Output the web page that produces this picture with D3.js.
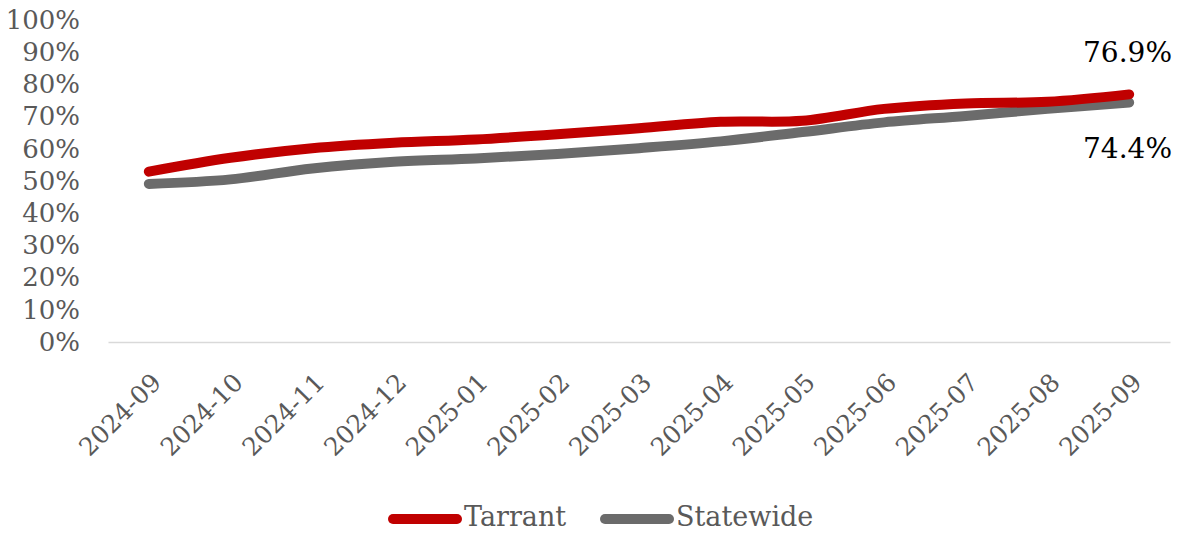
<!DOCTYPE html>
<html>
<head>
<meta charset="utf-8">
<script src="https://cdn.jsdelivr.net/npm/d3@7"></script>
<style>
	body { margin: 0; background: #fff; }
	svg { display: block; font-family: Georgia, "DejaVu Serif", serif; }
</style>
</head>
<body>
<div id="chart"></div>
<script>
/**********************************************************/
/*	Data												  */
/**********************************************************/

var months = ["2024-09", "2024-10", "2024-11", "2024-12", "2025-01", "2025-02", "2025-03",
	"2025-04", "2025-05", "2025-06", "2025-07", "2025-08", "2025-09"];
var tarrant = [52.9, 57.2, 60.2, 61.9, 62.9, 64.5, 66.4, 68.4, 68.7, 72.4, 74.1, 74.6, 76.9];
var statewide = [49.1, 50.5, 53.9, 56.0, 57.0, 58.4, 60.2, 62.3, 65.2, 68.2, 70.2, 72.4, 74.4];
var yTicks = [0, 10, 20, 30, 40, 50, 60, 70, 80, 90, 100];

var series = [
	{ name: "Tarrant", values: tarrant, color: "#C00000" },
	{ name: "Statewide", values: statewide, color: "#6B6B6B" }
];

/**********************************************************/
/*	Layout												  */
/**********************************************************/

var width = 1178, height = 533;
var plot = { left: 108, right: 1170, top: 20, bottom: 342 };

var svg = d3.select("#chart").append("svg")
	.attr("width", width)
	.attr("height", height);

// Scales
var x = d3.scaleBand().domain(months).range([plot.left, plot.right]);
var y = d3.scaleLinear().domain([0, 100]).range([plot.bottom, plot.top]);
function xc(m) { return x(m) + x.bandwidth() / 2; }

// Y axis labels (no line, no ticks)
var yAxis = svg.append("g")
	.attr("transform", "translate(" + 80 + ",0)")
	.call(d3.axisLeft(y).tickValues(yTicks).tickSize(0).tickPadding(0)
		.tickFormat(function(d) { return d + "%"; }));
yAxis.attr("font-family", null).attr("font-size", null);
yAxis.select(".domain").remove();
yAxis.selectAll("text")
	.attr("fill", "#595959")
	.style("font-size", "26px");

// X axis
var xAxis = svg.append("g")
	.attr("transform", "translate(0," + plot.bottom + ")")
	.call(d3.axisBottom(x).tickSize(0).tickPadding(0));
xAxis.attr("font-family", null).attr("font-size", null);
xAxis.select(".domain")
	.attr("stroke", "#D9D9D9")
	.attr("stroke-width", 1.5);
xAxis.selectAll("text")
	.attr("fill", "#595959")
	.style("font-size", "25px")
	.attr("text-anchor", "end")
	.attr("dy", null)
	.attr("y", null)
	.attr("transform", "translate(14,42) rotate(-45)");

/**********************************************************/
/*	Lines												  */
/**********************************************************/

var line = d3.line()
	.x(function(d, i) { return xc(months[i]); })
	.y(function(d) { return y(d); })
	.curve(d3.curveCatmullRom.alpha(0.5));

svg.selectAll(".series")
	.data(series.slice().reverse())
	.enter().append("path")
	.attr("class", "series")
	.attr("d", function(s) { return line(s.values); })
	.attr("fill", "none")
	.attr("stroke", function(s) { return s.color; })
	.attr("stroke-width", 10)
	.attr("stroke-linecap", "round")
	.attr("stroke-linejoin", "round");

// End labels
var last = months.length - 1;
svg.append("text")
	.attr("x", 1172).attr("y", y(tarrant[last]) - 32)
	.attr("text-anchor", "end")
	.style("font-size", "28px")
	.attr("fill", "#000")
	.text(tarrant[last].toFixed(1) + "%");
svg.append("text")
	.attr("x", 1172).attr("y", y(statewide[last]) + 56)
	.attr("text-anchor", "end")
	.style("font-size", "28px")
	.attr("fill", "#000")
	.text(statewide[last].toFixed(1) + "%");

/**********************************************************/
/*	Legend												  */
/**********************************************************/

var legendPos = [388, 600];
var legend = svg.selectAll(".legend")
	.data(series)
	.enter().append("g")
	.attr("class", "legend")
	.attr("transform", function(s, i) { return "translate(" + legendPos[i] + ",519)"; });
legend.append("line")
	.attr("x1", 5).attr("x2", 69)
	.attr("stroke", function(s) { return s.color; })
	.attr("stroke-width", 10)
	.attr("stroke-linecap", "round");
legend.append("text")
	.attr("x", 76).attr("y", 7)
	.attr("fill", "#595959")
	.style("font-size", "27px")
	.text(function(s) { return s.name; });
</script>
</body>
</html>
